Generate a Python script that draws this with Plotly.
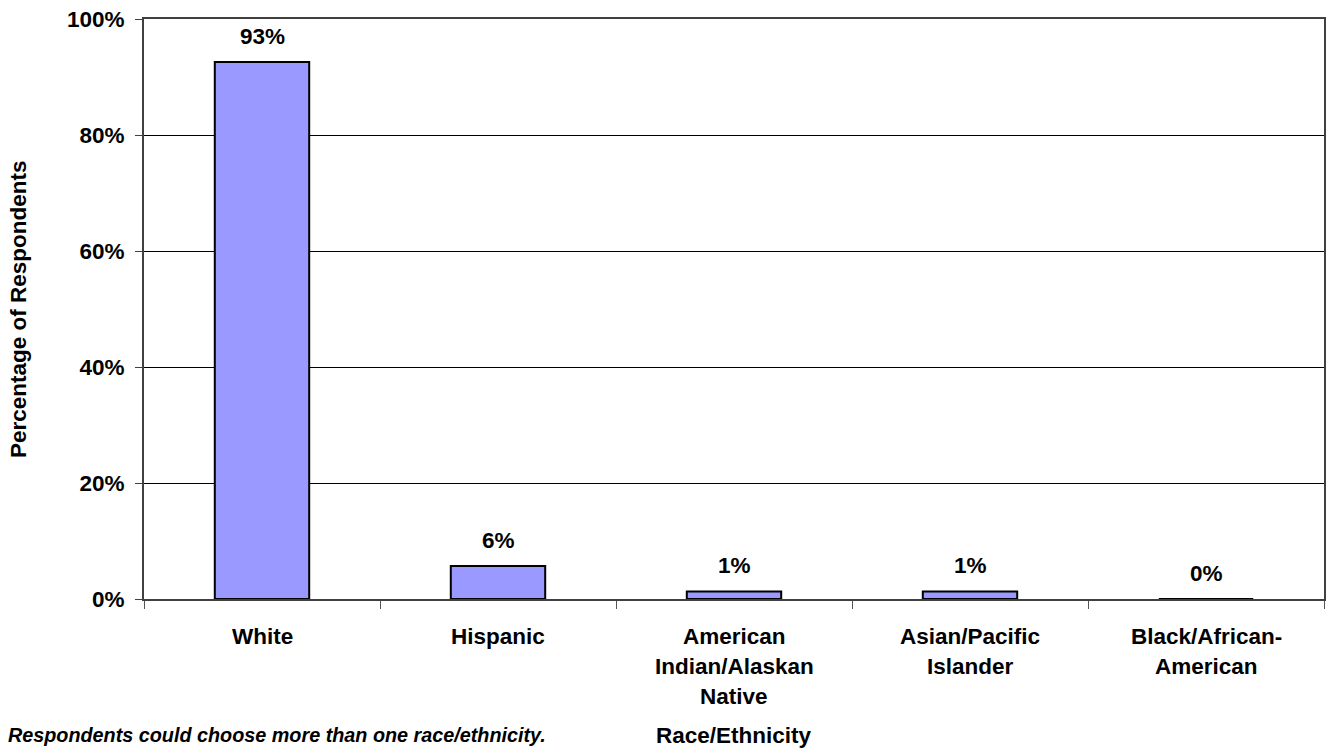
import plotly.graph_objects as go

# Survey results: share of respondents by race/ethnicity
categories = ["White", "Hispanic", "American Indian/Alaskan Native",
              "Asian/Pacific Islander", "Black/African-American"]
tick_lines = [["White"], ["Hispanic"], ["American", "Indian/Alaskan", "Native"],
              ["Asian/Pacific", "Islander"], ["Black/African-", "American"]]
percent = [92.6, 5.7, 1.3, 1.3, 0.0]
y_ticks = [0, 20, 40, 60, 80, 100]

FONT = "Arial, Liberation Sans, sans-serif"
BAR_FILL = "#9999FF"
SIZE = 22.5

fig = go.Figure(
    go.Bar(
        x=categories,
        y=percent,
        width=0.4,
        marker=dict(color=BAR_FILL, line=dict(color="#000000", width=2)),
        hoverinfo="skip",
    )
)

annotations = []
# value labels above each bar
for cat, v in zip(categories, percent):
    annotations.append(dict(
        x=cat, y=v, xref="x", yref="y", text=f"<b>{round(v)}%</b>",
        showarrow=False, yanchor="bottom", yshift=11,
        font=dict(family=FONT, size=SIZE, color="#000"),
    ))
# multi-line category labels under the axis
for cat, lines in zip(categories, tick_lines):
    for i, line in enumerate(lines):
        annotations.append(dict(
            x=cat, y=0, xref="x", yref="y", text=f"<b>{line}</b>",
            showarrow=False, yanchor="middle", yshift=-37 - 30 * i,
            font=dict(family=FONT, size=SIZE, color="#000"),
        ))
# axis titles and footnote
annotations += [
    dict(x=0, y=0.5, xref="paper", yref="paper", xshift=-126,
         text="<b>Percentage of Respondents</b>", textangle=-90, showarrow=False,
         xanchor="center", yanchor="middle",
         font=dict(family=FONT, size=SIZE, color="#000")),
    dict(x=0.5, y=0, xref="paper", yref="paper", yshift=-136,
         text="<b>Race/Ethnicity</b>", showarrow=False,
         xanchor="center", yanchor="middle",
         font=dict(family=FONT, size=SIZE, color="#000")),
    dict(x=0, y=0, xref="paper", yref="paper", xshift=-138, yshift=-136,
         text="<b><i>Respondents could choose more than one race/ethnicity.</i></b>",
         showarrow=False, xanchor="left", yanchor="middle",
         font=dict(family=FONT, size=19.8, color="#000")),
]

fig.update_layout(
    width=1328, height=751,
    margin=dict(l=144, r=2, t=19, b=152),
    paper_bgcolor="#FFFFFF", plot_bgcolor="#FFFFFF",
    showlegend=False,
    annotations=annotations,
    xaxis=dict(
        type="category",
        showticklabels=False,
        ticks="outside", ticklen=8, tickwidth=1, tickcolor="#555555",
        tickson="boundaries",
        showline=True, linecolor="#404040", linewidth=2, mirror=True,
        showgrid=False, zeroline=False,
        fixedrange=True,
    ),
    yaxis=dict(
        range=[0, 100],
        tickvals=y_ticks,
        ticktext=[f"<b>{t}%</b>" for t in y_ticks],
        ticks="outside", ticklen=7, tickwidth=1, tickcolor="#404040",
        ticklabelstandoff=6,
        tickfont=dict(family=FONT, size=SIZE, color="#000"),
        showline=True, linecolor="#404040", linewidth=2, mirror=True,
        showgrid=True, gridcolor="#000000", gridwidth=1,
        zeroline=False,
        fixedrange=True,
    ),
)

fig.write_html("out.html")
